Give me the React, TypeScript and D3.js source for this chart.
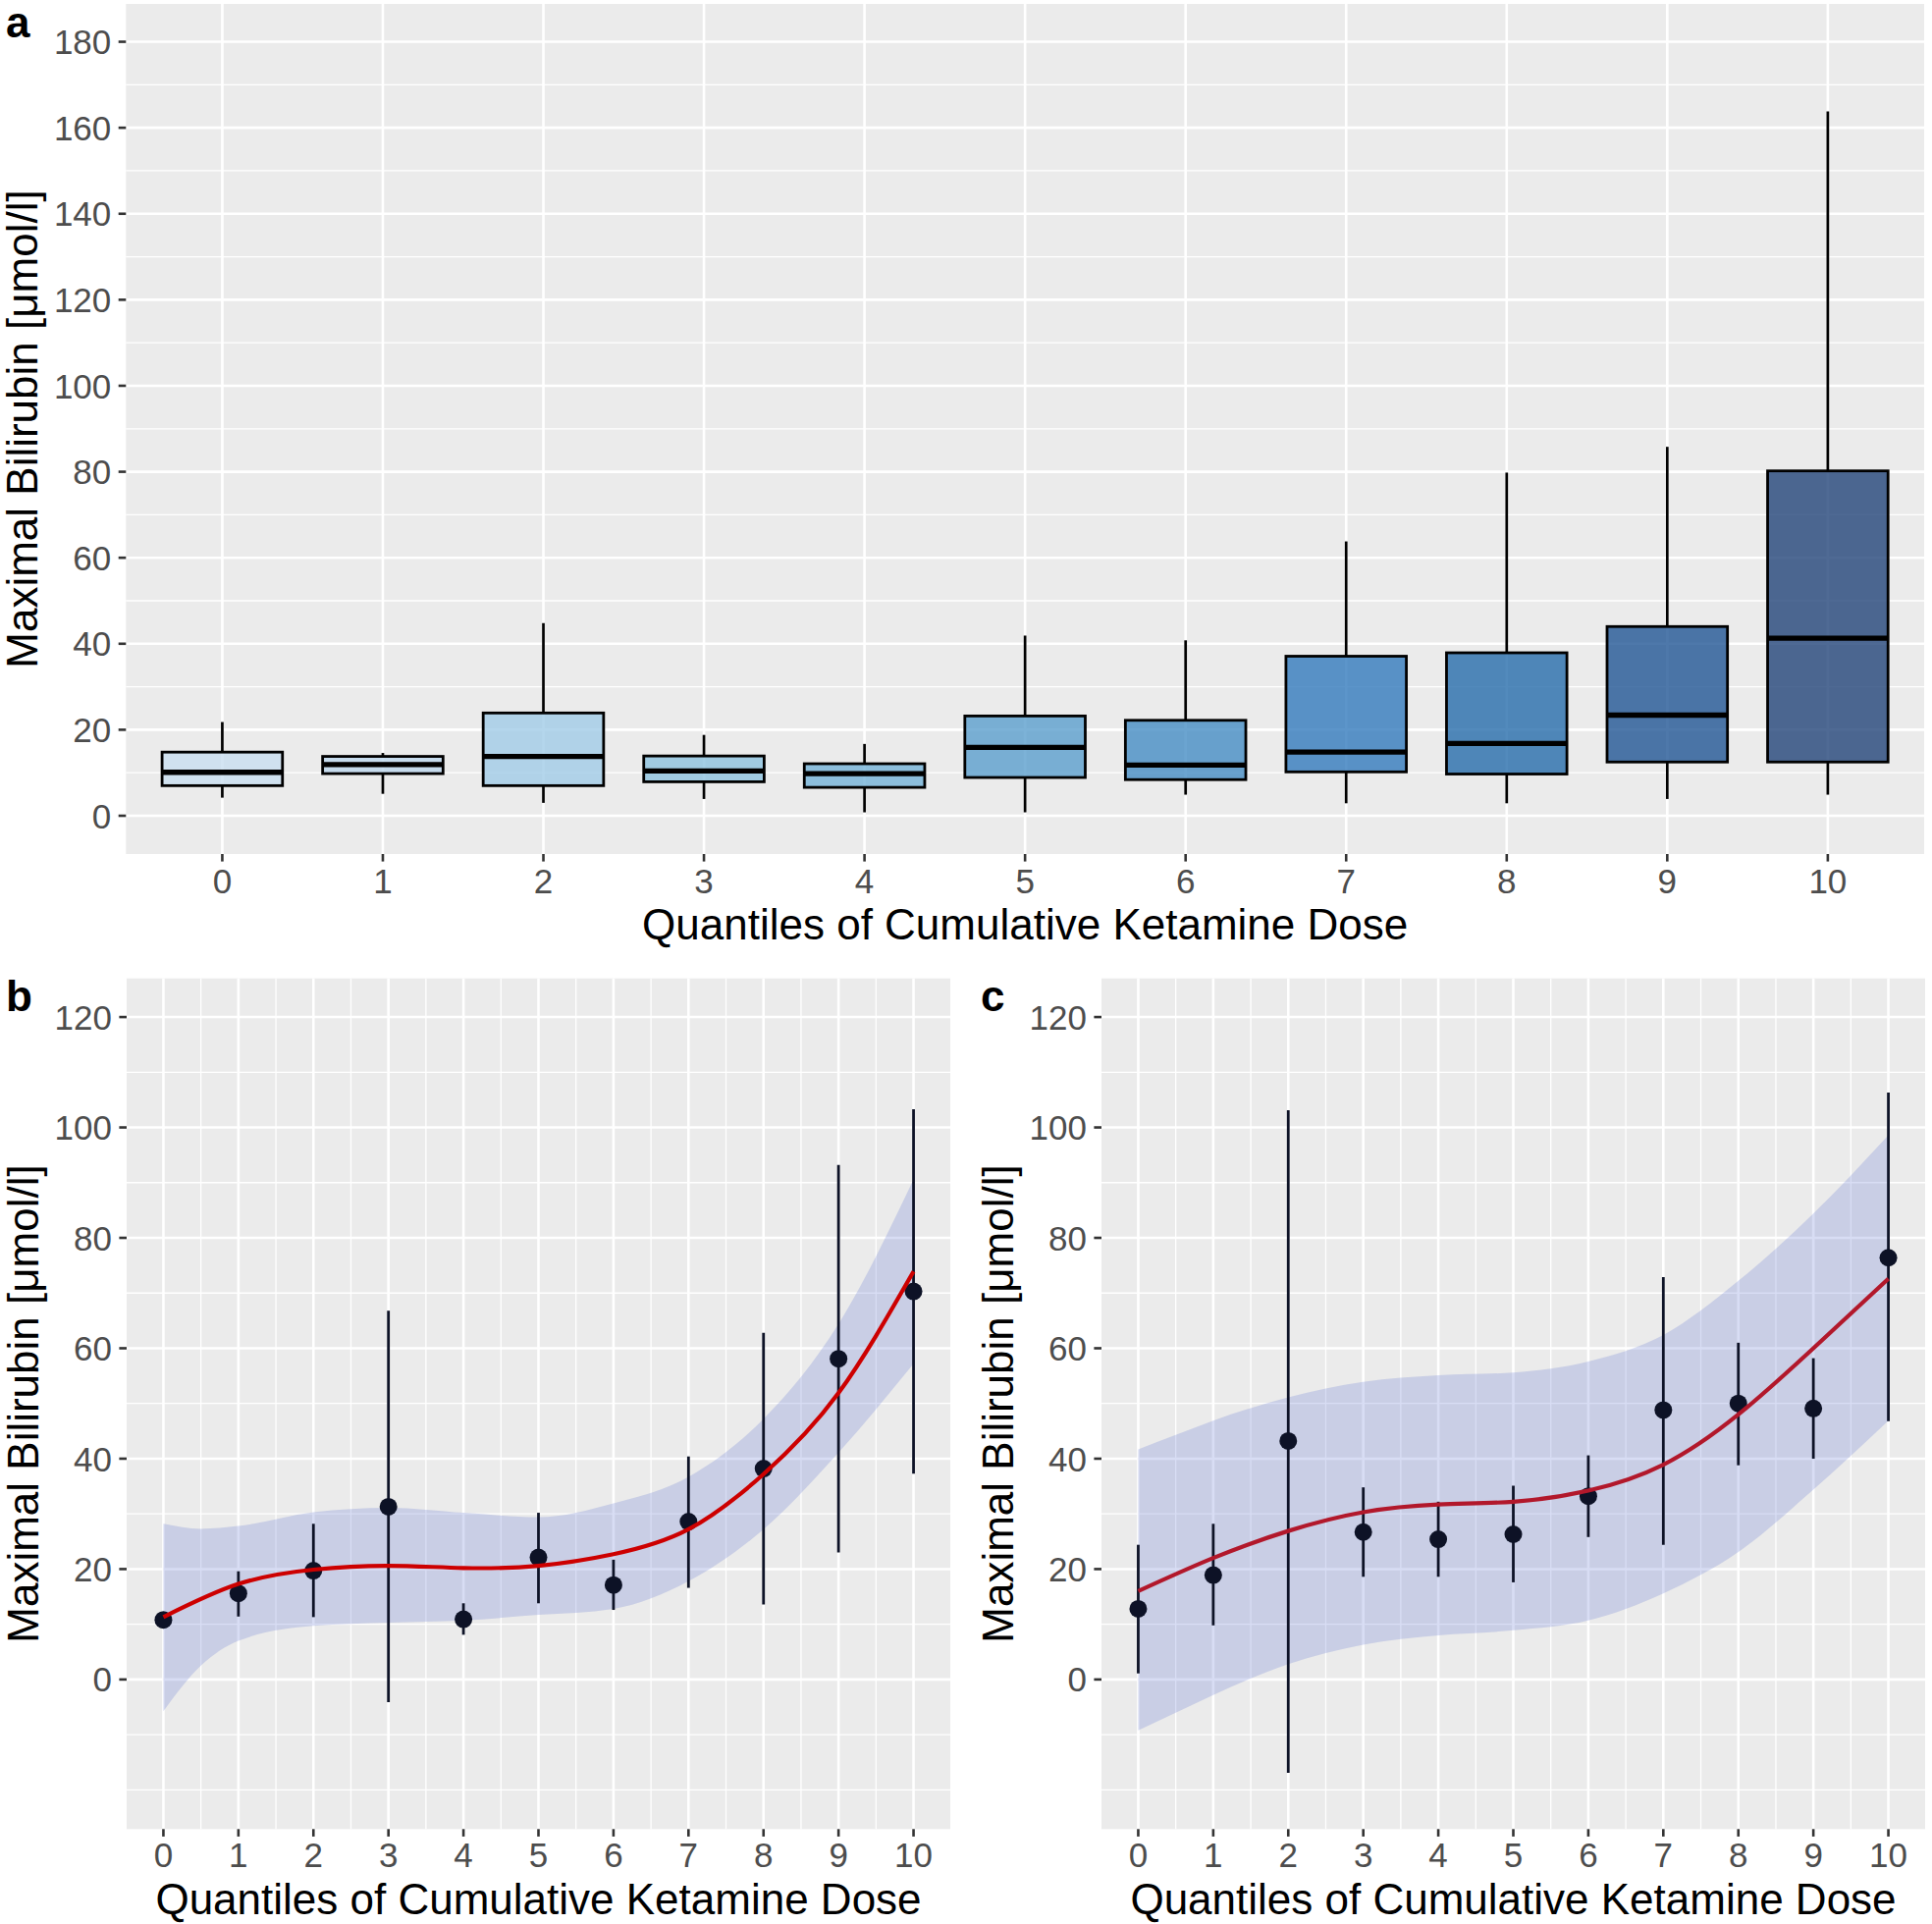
import React from 'react';
import * as d3 from 'd3';

// ---------- data ----------
const CATS = ['0', '1', '2', '3', '4', '5', '6', '7', '8', '9', '10'];
const BOX_LOW = [4.2, 5.1, 3.0, 3.9, 0.8, 0.8, 4.9, 2.9, 2.9, 3.9, 4.9];
const BOX_Q1 = [7.0, 9.8, 7.0, 7.9, 6.6, 8.9, 8.4, 10.2, 9.7, 12.5, 12.5];
const BOX_MED = [10.1, 11.9, 13.8, 10.4, 9.8, 15.9, 11.8, 14.8, 16.8, 23.4, 41.3];
const BOX_Q3 = [14.8, 13.8, 23.9, 13.9, 12.1, 23.2, 22.2, 37.1, 37.9, 44.0, 80.2];
const BOX_HIGH = [21.8, 14.6, 44.8, 18.8, 16.7, 41.9, 40.8, 63.8, 79.8, 85.8, 163.8];
const BOX_COLORS = ['#d0e1ef', '#c6dbed', '#b0d2e8', '#a0cbe2', '#8cbedc', '#78aed3', '#67a0cc', '#5891c6', '#4e86b8', '#4a74a6', '#4b6690'];

const QX = [0, 1, 2, 3, 4, 5, 6, 7, 8, 9, 10];
const RIB_X = [0, 0.5, 1, 2, 3, 4, 5, 6, 7, 8, 9, 10];

const B_MEAN = [10.8, 15.6, 19.7, 31.3, 10.9, 22.1, 17.1, 28.6, 38.2, 58.1, 70.3];
const B_LO = [9.8, 11.4, 11.3, -4.1, 8.1, 13.8, 12.6, 16.6, 13.6, 23.0, 37.3];
const B_HI = [11.8, 19.6, 28.2, 66.8, 13.8, 30.2, 21.7, 40.4, 62.8, 93.2, 103.3];
const B_FIT = [11.3, 17.3, 19.9, 20.6, 20.2, 20.6, 22.7, 27.2, 37.2, 51.9, 73.9];
const B_UP = [28.2, 27.3, 27.8, 30.3, 31.1, 30.2, 29.4, 31.9, 36.7, 47.2, 64.4, 90.6];
const B_DN = [-5.75, 2.5, 7.0, 9.7, 10.3, 10.7, 11.7, 12.8, 17.8, 27.2, 41.1, 57.2];

const C_MEAN = [12.8, 18.9, 43.2, 26.7, 25.4, 26.3, 33.2, 48.8, 50.0, 49.1, 76.4];
const C_LO = [1.1, 9.8, -16.9, 18.6, 18.6, 17.6, 25.8, 24.4, 38.8, 40.0, 46.8];
const C_HI = [24.4, 28.2, 103.1, 34.8, 32.2, 35.1, 40.6, 72.9, 61.0, 58.2, 106.3];
const C_FIT = [16.0, 22.0, 26.9, 30.3, 31.7, 32.2, 34.2, 38.9, 48.0, 60.0, 72.6];
const C_UP = [41.7, 44.3, 46.9, 51.1, 53.9, 55.1, 55.6, 57.6, 62.4, 72.2, 84.4, 98.6];
const C_DN = [-9.2, -6.0, -2.8, 2.8, 6.3, 8.0, 8.9, 10.7, 15.6, 23.1, 34.4, 46.9];

const A_MAJOR = [0, 20, 40, 60, 80, 100, 120, 140, 160, 180];
const A_MINOR = [10, 30, 50, 70, 90, 110, 130, 150, 170];
const BC_MAJOR = [0, 20, 40, 60, 80, 100, 120];
const BC_MINOR = [-20, -10, 10, 30, 50, 70, 90, 110];
const BC_XMINOR = [0.5, 1.5, 2.5, 3.5, 4.5, 5.5, 6.5, 7.5, 8.5, 9.5];

const X_TITLE = 'Quantiles of Cumulative Ketamine Dose';
const Y_TITLE = 'Maximal Bilirubin [μmol/l]';

// ---------- style ----------
const W = 1968, H = 1960;
const FONT = "'Liberation Sans', Arial, Helvetica, sans-serif";
const BG = '#EBEBEB';
const TICK_FS = 35;
const TITLE_FS = 44;
const MAJ_W = 2.6, MIN_W = 1.3;
const TICK_COL = '#333333';
const LAB_COL = '#4D4D4D';
const BOX_ALPHA = 0.8;

function underColor(hex: string) {
  const c = d3.rgb(hex);
  const f = (v: number) => Math.max(0, Math.min(255, (v - 235 * (1 - BOX_ALPHA)) / BOX_ALPHA));
  return d3.rgb(f(c.r), f(c.g), f(c.b)).formatHex();
}

function PanelA() {
  const left = 128.3, right = 1960, top = 4, bottom = 870;
  const x = d3.scalePoint<string>().domain(CATS).range([left, right]).padding(0.6);
  const y = d3.scaleLinear().domain([-8.9, 188.8]).range([bottom, top]);
  const bw = x.step() * 0.75;
  return (
    <g>
      <rect x={left} y={top} width={right - left} height={bottom - top} fill={BG} />
      {A_MINOR.map(v => <line key={'mi' + v} x1={left} x2={right} y1={y(v)} y2={y(v)} stroke="#fff" strokeWidth={MIN_W} />)}
      {A_MAJOR.map(v => <line key={'ma' + v} x1={left} x2={right} y1={y(v)} y2={y(v)} stroke="#fff" strokeWidth={MAJ_W} />)}
      {CATS.map(c => <line key={'vx' + c} x1={x(c)} x2={x(c)} y1={top} y2={bottom} stroke="#fff" strokeWidth={MAJ_W} />)}
      {CATS.map((c, i) => {
        const cx = x(c)!;
        return (
          <g key={'box' + c}>
            <line x1={cx} x2={cx} y1={y(BOX_HIGH[i])} y2={y(BOX_Q3[i])} stroke="#000" strokeWidth={2.7} />
            <line x1={cx} x2={cx} y1={y(BOX_Q1[i])} y2={y(BOX_LOW[i])} stroke="#000" strokeWidth={2.7} />
            <rect x={cx - bw / 2} y={y(BOX_Q3[i])} width={bw} height={y(BOX_Q1[i]) - y(BOX_Q3[i])}
              fill={underColor(BOX_COLORS[i])} fillOpacity={BOX_ALPHA} stroke="#000" strokeWidth={2.8} />
            <line x1={cx - bw / 2} x2={cx + bw / 2} y1={y(BOX_MED[i])} y2={y(BOX_MED[i])} stroke="#000" strokeWidth={5.3} />
          </g>
        );
      })}
      {A_MAJOR.map(v => (
        <g key={'yt' + v}>
          <line x1={left - 7.6} x2={left} y1={y(v)} y2={y(v)} stroke={TICK_COL} strokeWidth={MAJ_W} />
          <text x={left - 15} y={y(v) + 0.36 * TICK_FS} textAnchor="end" fontSize={TICK_FS} fill={LAB_COL} fontFamily={FONT}>{v}</text>
        </g>
      ))}
      {CATS.map(c => (
        <g key={'xt' + c}>
          <line x1={x(c)} x2={x(c)} y1={bottom} y2={bottom + 7.6} stroke={TICK_COL} strokeWidth={MAJ_W} />
          <text x={x(c)} y={bottom + 40} textAnchor="middle" fontSize={TICK_FS} fill={LAB_COL} fontFamily={FONT}>{c}</text>
        </g>
      ))}
      <text x={(left + right) / 2} y={bottom + 86.5} textAnchor="middle" fontSize={TITLE_FS} fontFamily={FONT} fill="#000">{X_TITLE}</text>
      <text transform={`translate(38,${(top + bottom) / 2}) rotate(-90)`} textAnchor="middle" fontSize={TITLE_FS} fontFamily={FONT} fill="#000">{Y_TITLE}</text>
      <text x={6} y={38} fontSize={44} fontWeight="bold" fontFamily={FONT} fill="#000">a</text>
    </g>
  );
}

type PP = {
  left: number; label: string; mean: number[]; lo: number[]; hi: number[]; fit: number[];
  up: number[]; dn: number[]; lineColor: string;
};

function PanelBC({ left, label, mean, lo, hi, fit, up, dn, lineColor }: PP) {
  const right = left + 839, top = 996.7, bottom = 1863.3;
  const x = d3.scaleLinear().domain([-0.49, 10.49]).range([left, right]);
  const y = d3.scaleLinear().domain([-27.1, 127.0]).range([bottom, top]);
  const area = d3.area<number>().x((_, i) => x(RIB_X[i])).y0((_, i) => y(dn[i])).y1(d => y(d)).curve(d3.curveMonotoneX);
  const line = d3.line<number>().x((_, i) => x(QX[i])).y(d => y(d)).curve(d3.curveNatural);
  return (
    <g>
      <rect x={left} y={top} width={right - left} height={bottom - top} fill={BG} />
      {BC_MINOR.map(v => <line key={'mi' + v} x1={left} x2={right} y1={y(v)} y2={y(v)} stroke="#fff" strokeWidth={MIN_W} />)}
      {BC_XMINOR.map(v => <line key={'xmi' + v} x1={x(v)} x2={x(v)} y1={top} y2={bottom} stroke="#fff" strokeWidth={MIN_W} />)}
      {BC_MAJOR.map(v => <line key={'ma' + v} x1={left} x2={right} y1={y(v)} y2={y(v)} stroke="#fff" strokeWidth={MAJ_W} />)}
      {QX.map(v => <line key={'xma' + v} x1={x(v)} x2={x(v)} y1={top} y2={bottom} stroke="#fff" strokeWidth={MAJ_W} />)}
      <path d={area(up)!} fill="rgb(100,120,210)" fillOpacity={0.25} />
      {QX.map((v, i) => (
        <line key={'eb' + v} x1={x(v)} x2={x(v)} y1={y(hi[i])} y2={y(lo[i])} stroke="#0d1226" strokeWidth={2.8} />
      ))}
      {QX.map((v, i) => (
        <circle key={'pt' + v} cx={x(v)} cy={y(mean[i])} r={9} fill="#0d1226" />
      ))}
      <path d={line(fit)!} fill="none" stroke={lineColor} strokeWidth={4.2} />
      {BC_MAJOR.map(v => (
        <g key={'yt' + v}>
          <line x1={left - 7.6} x2={left} y1={y(v)} y2={y(v)} stroke={TICK_COL} strokeWidth={MAJ_W} />
          <text x={left - 15} y={y(v) + 0.36 * TICK_FS} textAnchor="end" fontSize={TICK_FS} fill={LAB_COL} fontFamily={FONT}>{v}</text>
        </g>
      ))}
      {QX.map(v => (
        <g key={'xt' + v}>
          <line x1={x(v)} x2={x(v)} y1={bottom} y2={bottom + 7.6} stroke={TICK_COL} strokeWidth={MAJ_W} />
          <text x={x(v)} y={bottom + 39} textAnchor="middle" fontSize={TICK_FS} fill={LAB_COL} fontFamily={FONT}>{v}</text>
        </g>
      ))}
      <text x={(left + right) / 2} y={bottom + 86.5} textAnchor="middle" fontSize={TITLE_FS} fontFamily={FONT} fill="#000">{X_TITLE}</text>
      <text transform={`translate(${left - 90.5},${(top + bottom) / 2}) rotate(-90)`} textAnchor="middle" fontSize={TITLE_FS} fontFamily={FONT} fill="#000">{Y_TITLE}</text>
      <text x={left - 123} y={1030} fontSize={44} fontWeight="bold" fontFamily={FONT} fill="#000">{label}</text>
    </g>
  );
}

export default function App() {
  return (
    <div style={{ position: 'absolute', left: 0, top: 0 }}>
      <svg width={W} height={H} viewBox={`0 0 ${W} ${H}`} style={{ display: 'block', background: '#fff' }}>
        <rect x={0} y={0} width={W} height={H} fill="#fff" />
        <PanelA />
        <PanelBC left={129} label="b" mean={B_MEAN} lo={B_LO} hi={B_HI} fit={B_FIT} up={B_UP} dn={B_DN} lineColor="#CD0000" />
        <PanelBC left={1122} label="c" mean={C_MEAN} lo={C_LO} hi={C_HI} fit={C_FIT} up={C_UP} dn={C_DN} lineColor="#B2182B" />
      </svg>
    </div>
  );
}
